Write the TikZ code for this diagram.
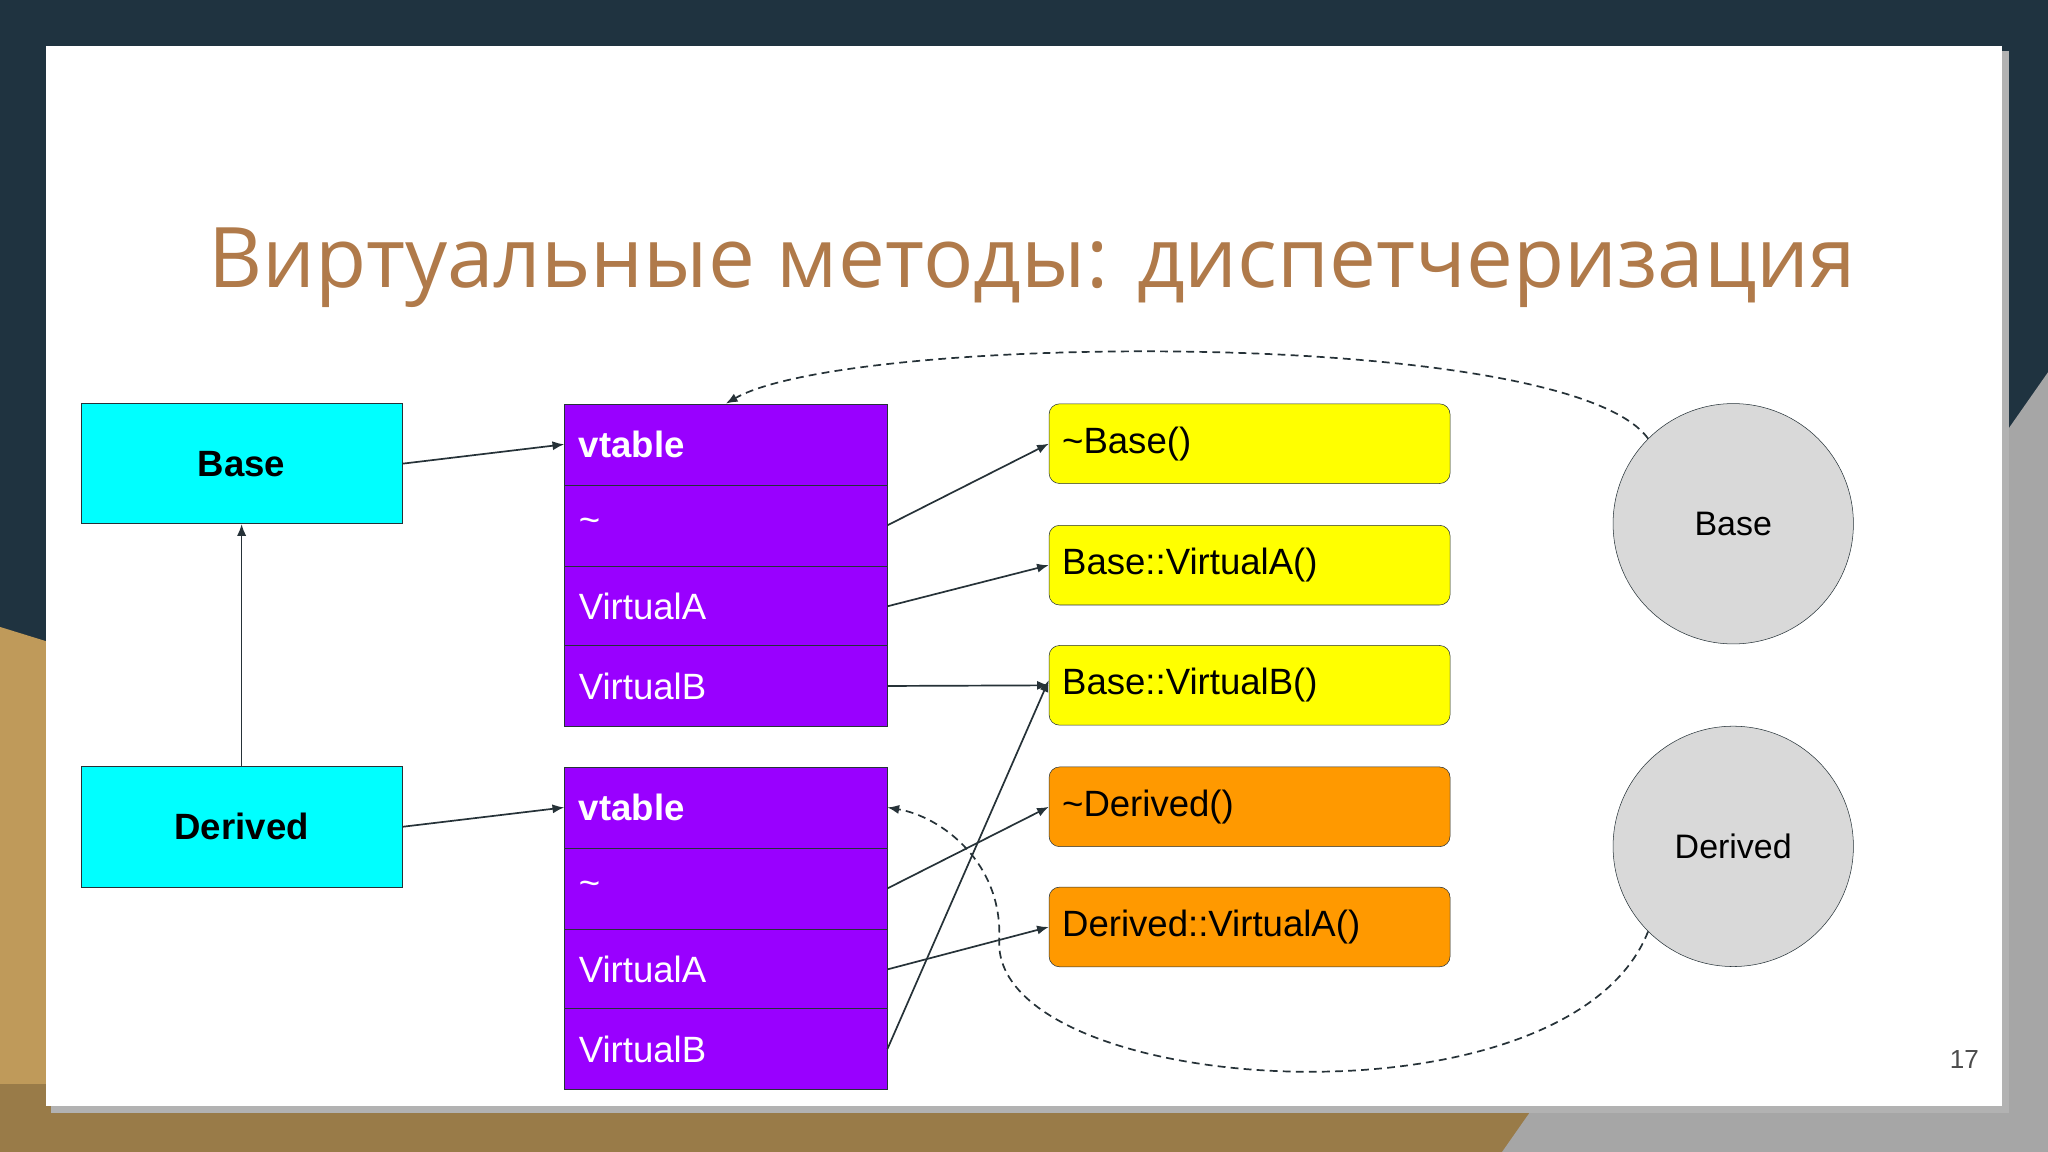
\documentclass[tikz,border=0pt]{standalone}
\usepackage{fontspec}
\setmainfont{Liberation Sans}
\newfontfamily\titlefont{Open Sans}
\usetikzlibrary{arrows.meta}
\definecolor{navy}{HTML}{1F3340}
\definecolor{gold}{HTML}{BF9A5A}
\definecolor{titlec}{HTML}{B07A4A}
\definecolor{cyanb}{HTML}{00FFFF}
\definecolor{purp}{HTML}{9900FF}
\definecolor{yel}{HTML}{FFFF00}
\definecolor{ora}{HTML}{FF9900}
\definecolor{grayc}{HTML}{D9D9D9}
\definecolor{linec}{HTML}{263238}
\tikzset{
 cls/.style={draw=linec,fill=cyanb,minimum width=246pt,minimum height=92pt,font=\fontsize{28}{30}\selectfont\bfseries,inner sep=0},
 vrow/.style={draw=linec,fill=purp,minimum width=247pt,minimum height=62pt,text=white,font=\fontsize{28}{30}\selectfont,anchor=north west,text width=225pt,inner sep=0,align=left},
 fn/.style={draw=linec,rounded corners=8pt,minimum width=307pt,minimum height=61pt,font=\fontsize{28}{30}\selectfont,anchor=north west,text width=287pt,inner sep=0,align=left},
 obj/.style={circle,draw=linec,fill=grayc,minimum size=184pt,font=\fontsize{26}{28}\selectfont,inner sep=0},
 arr/.style={draw=linec,line width=1.3pt,-{Latex[length=9pt,width=7pt]}},
 darr/.style={arr,dashed,dash pattern=on 6pt off 4pt}
}
\begin{document}
\begin{tikzpicture}[x=1pt,y=-1pt]
\useasboundingbox (0,0) rectangle (1568,882);
\fill[navy] (0,0) rectangle (1568,882);
\fill[gold] (0,480) -- (1300,882) -- (0,882) -- cycle;
\fill[gold!80!black] (0,830) rectangle (1250,882);
\fill[gray!70] (1568,285) -- (1568,882) -- (1150,882) -- cycle;
\fill[black!30] (39,39) rectangle (1538,852);
\fill[white] (35,35) rectangle (1533,847);
\node[text=titlec,font=\titlefont\fontsize{64}{70}\selectfont,anchor=base west] (title) at (156,220) {Виртуальные методы: диспетчеризация};
\node[cls] (B) at (185,355) {Base};
\node[cls] (D) at (185,633) {Derived};
\node[vrow,font=\fontsize{28}{30}\selectfont\bfseries] (v1) at (432,309) {vtable};
\node[vrow] (v1t) at (432,371) {\raisebox{-6pt}{\textasciitilde}};
\node[vrow] (v1a) at (432,433) {VirtualA};
\node[vrow] (v1b) at (432,494) {VirtualB};
\node[vrow,font=\fontsize{28}{30}\selectfont\bfseries] (v2) at (432,587) {vtable};
\node[vrow] (v2t) at (432,649) {\raisebox{-6pt}{\textasciitilde}};
\node[vrow] (v2a) at (432,711) {VirtualA};
\node[vrow] (v2b) at (432,772) {VirtualB};
\node[fn,fill=yel] (f1) at (803,309) {\textasciitilde Base()};
\node[fn,fill=yel] (f2) at (803,402) {Base::VirtualA()};
\node[fn,fill=yel] (f3) at (803,494) {Base::VirtualB()};
\node[fn,fill=ora] (f4) at (803,587) {\textasciitilde Derived()};
\node[fn,fill=ora] (f5) at (803,679) {Derived::VirtualA()};
\node[obj] (oB) at (1327,401) {Base};
\node[obj] (oD) at (1327,648) {Derived};
\node[font=\fontsize{20}{22}\selectfont,text=black!70] (num) at (1504,811) {17};
\draw[arr] (B.east) -- (v1.west);
\draw[arr] (D.east) -- (v2.west);
\draw[arr] (D.north) -- (B.south);
\draw[arr] (v1t.east) -- (f1.west);
\draw[arr] (v1a.east) -- (f2.west);
\draw[arr] (v1b.east) -- (f3.west);
\draw[arr] (v2t.east) -- (f4.west);
\draw[arr] (v2a.east) -- (f5.west);
\draw[arr] (v2b.east) -- ([yshift=4pt]f3.west);
\draw[darr] (oB.135) .. controls (1200,250) and (650,255) .. (v1.north);
\draw[darr] (oD.225) .. controls (1200,870) and (760,840) .. (765,720) .. controls (768,660) and (720,625) .. (v2.east);
\end{tikzpicture}
\end{document}
